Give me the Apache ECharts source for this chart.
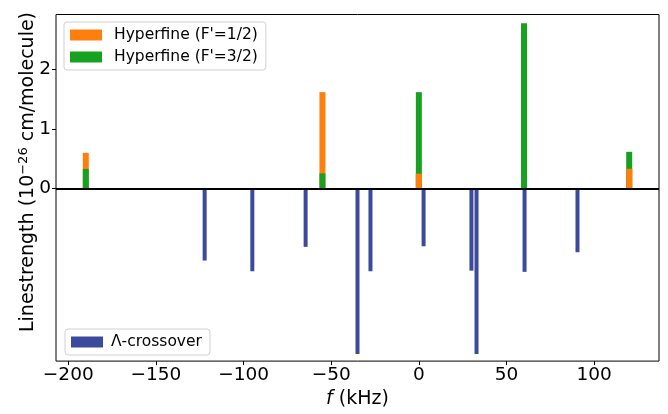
<!DOCTYPE html>
<html>
<head>
<meta charset="utf-8">
<script src="https://cdn.jsdelivr.net/npm/echarts@6/dist/echarts.min.js"></script>
<style>
  html, body { margin: 0; padding: 0; background: #fff; }
  #chart { width: 668px; height: 414px; }
</style>
</head>
<body>
<div id="chart"></div>
<script>
// hyperfine lines (kHz, 10^-26 cm/molecule)
const freqHyper = [-190, -55, 0, 60, 120];
const hf12 = [0.6, 1.62, 0.25, null, 0.333];
const hf32 = [0.33, 0.255, 1.62, 2.78, 0.617];
// lambda-crossover resonances, drawn downwards
const freqCross = [-122.2, -95, -64.6, -35, -27.6, 2.7, 30, 32.9, 60.3, 90.5];
const crossVals = [-1.21, -1.39, -0.98, -2.78, -1.39, -0.97, -1.38, -2.78, -1.4, -1.07];
const xTicks = [-200, -150, -100, -50, 0, 50, 100];
const yTicks = [0, 1, 2];

const FONT = "DejaVu Sans";
const name12 = "Hyperfine (F'=1/2)";
const name32 = "Hyperfine (F'=3/2)";

const pairs = (xs, ys) => xs.map((x, i) => [x, ys[i]]).filter(p => p[1] != null);
// orange bars that are shorter than green get drawn again on top
const hf12front = freqHyper.map((x, i) => [x, hf12[i]])
  .filter((p, i) => p[1] != null && p[1] < hf32[i]);

const chart = echarts.init(document.getElementById("chart"));

const xBase = {
  type: "value",
  min: -207,
  max: 137,
  splitLine: { show: false },
};

const legendText = { fontFamily: FONT, fontSize: 15.5, color: "#000", padding: [0, 0, 0, 7] };

chart.setOption({
  animation: false,
  backgroundColor: "#fff",
  textStyle: { fontFamily: FONT },
  grid: {
    left: 56, right: 9, top: 14.5, bottom: 50,
    show: true, borderColor: "#000", borderWidth: 1, backgroundColor: "transparent",
  },
  legend: [
    {
      data: [name12, name32],
      orient: "vertical",
      left: 64, top: 22,
      itemWidth: 32, itemHeight: 11, itemGap: 6,
      padding: [5, 8, 5, 6],
      borderColor: "#d0d0d0", borderWidth: 1, borderRadius: 3,
      textStyle: legendText,
      icon: "rect",
    },
    {
      data: ["Λ-crossover"],
      left: 65, top: 329,
      itemWidth: 32, itemHeight: 11,
      padding: [5, 8, 5, 6],
      borderColor: "#d0d0d0", borderWidth: 1, borderRadius: 3,
      textStyle: Object.assign({}, legendText, { padding: [0, 0, 0, 3] }),
      icon: "rect",
    },
  ],
  xAxis: [
    Object.assign({}, xBase, {
      name: "{it|f} (kHz)",
      nameLocation: "middle",
      nameGap: 25,
      nameTextStyle: {
        fontFamily: FONT, fontSize: 19, color: "#000",
        rich: { it: { fontFamily: FONT, fontSize: 19, fontStyle: "italic", color: "#000" } },
      },
      axisLine: { show: false, onZero: false },
      axisTick: { show: true, customValues: xTicks, length: 4, lineStyle: { color: "#000" } },
      axisLabel: {
        customValues: xTicks,
        fontFamily: FONT, fontSize: 18.5, color: "#000", margin: 5,
        formatter: v => String(v).replace("-", "\u2212"),
      },
    }),
    Object.assign({}, xBase, { show: false }),
  ],
  yAxis: {
    type: "value",
    min: -2.9,
    max: 2.925,
    splitLine: { show: false },
    axisLine: { show: false, onZero: false },
    axisTick: { show: true, customValues: yTicks, length: 4, lineStyle: { color: "#000" } },
    axisLabel: { customValues: yTicks, fontFamily: FONT, fontSize: 18.5, color: "#000", margin: 5 },
  },
  graphic: [
    {
      type: "text",
      x: 28, y: 172,
      rotation: Math.PI / 2,
      style: {
        text: "Linestrength (10{sup|\u221226} cm/molecule)",
        fontFamily: FONT, fontSize: 19, fill: "#000",
        align: "center", verticalAlign: "middle",
        rich: {
          sup: { fontFamily: FONT, fontSize: 13, fill: "#000", verticalAlign: "top", padding: [0, 0, 8, 0] },
        },
      },
    },
  ],
  series: [
    {
      name: name12, type: "bar", xAxisIndex: 0,
      data: pairs(freqHyper, hf12),
      barWidth: 6, barGap: "-100%",
      itemStyle: { color: "#ff7f0e" },
    },
    {
      name: name32, type: "bar", xAxisIndex: 0,
      data: pairs(freqHyper, hf32),
      barWidth: 6, barGap: "-100%",
      itemStyle: { color: "#17a121" },
    },
    {
      name: name12, type: "bar", xAxisIndex: 0,
      data: hf12front,
      barWidth: 6, barGap: "-100%",
      itemStyle: { color: "#ff7f0e" },
    },
    {
      name: "Λ-crossover", type: "bar", xAxisIndex: 1,
      data: pairs(freqCross, crossVals),
      barWidth: 4,
      itemStyle: { color: "#3b4a9d" },
      markLine: {
        silent: true, symbol: "none", z: 10,
        label: { show: false },
        lineStyle: { color: "#000", width: 2, type: "solid" },
        data: [{ yAxis: 0 }],
      },
    },
  ],
});
</script>
</body>
</html>
